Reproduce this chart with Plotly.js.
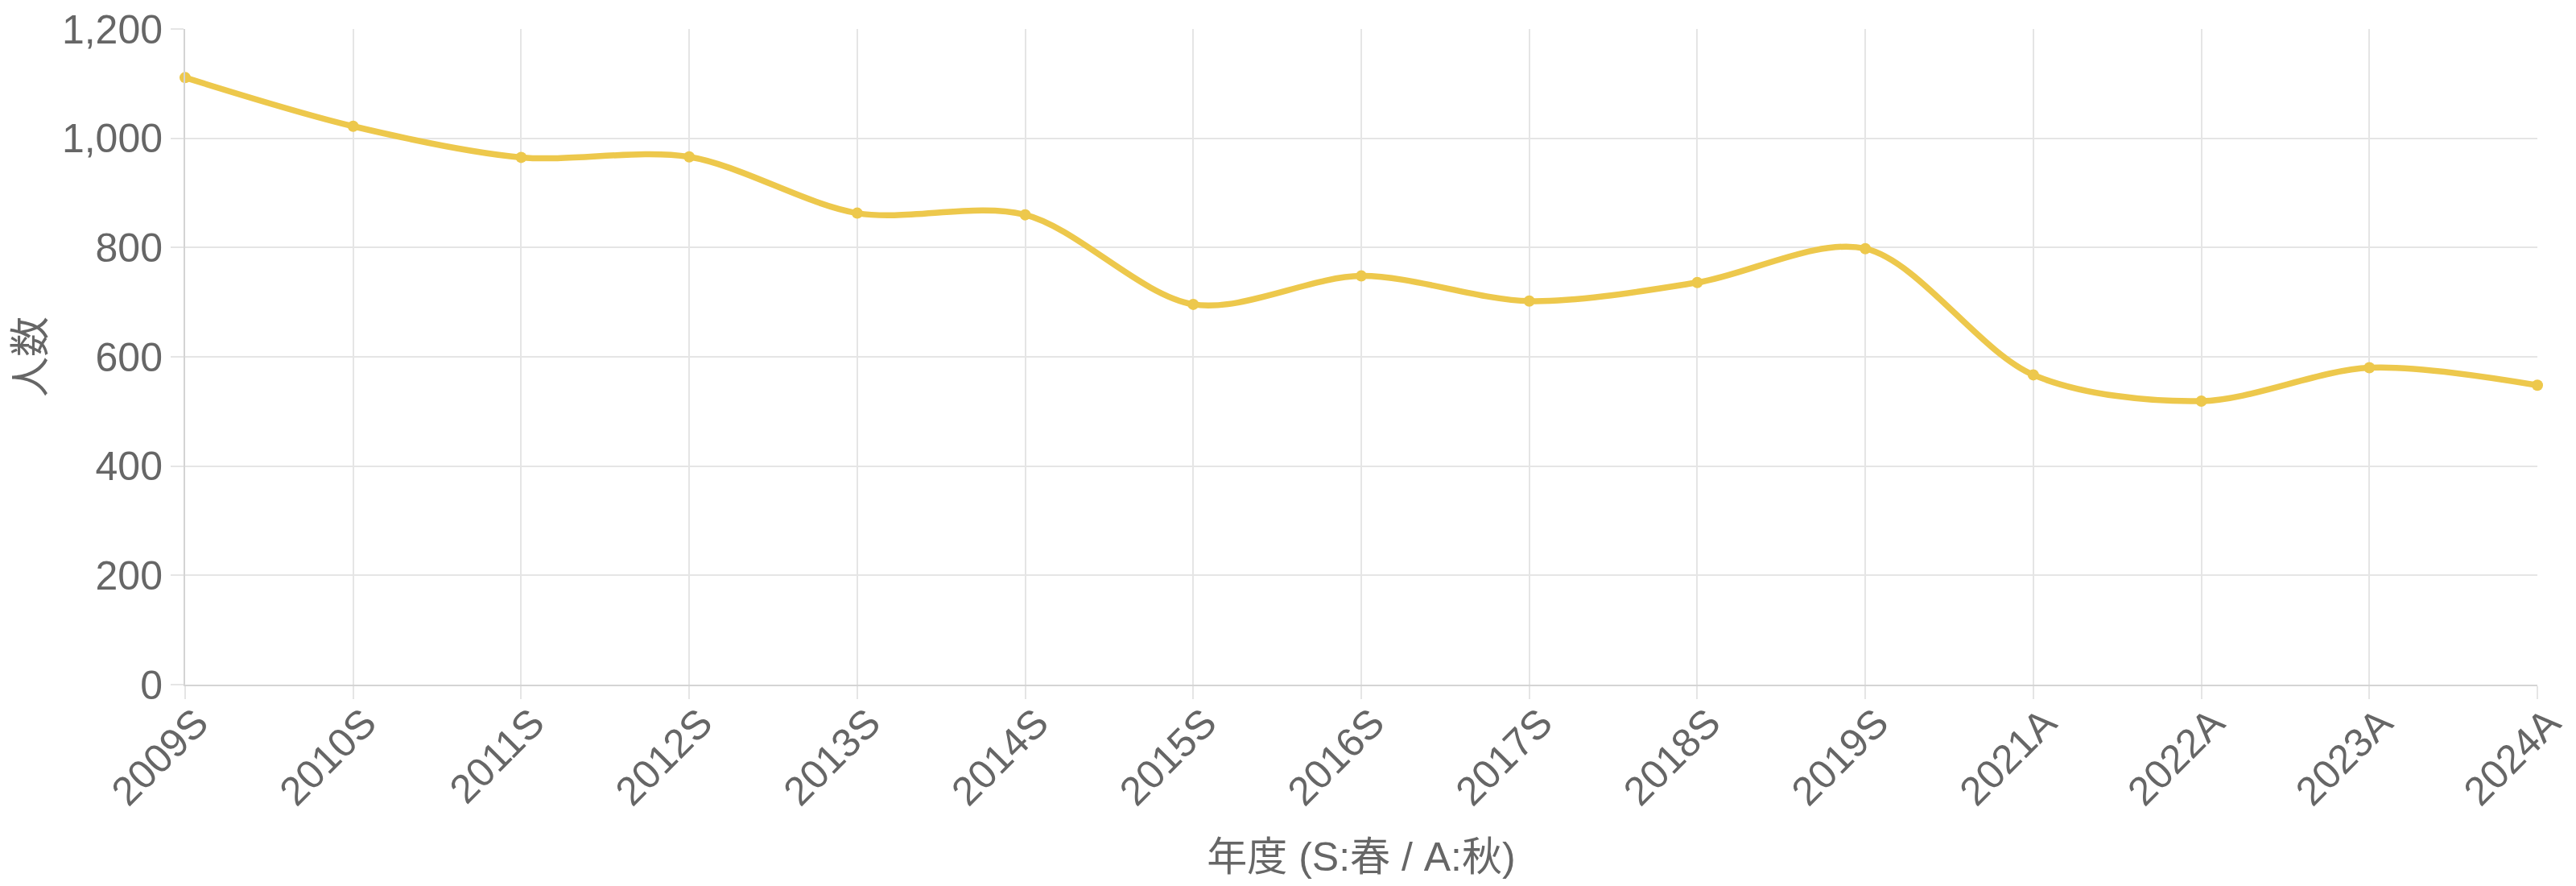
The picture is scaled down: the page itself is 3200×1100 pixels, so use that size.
<!DOCTYPE html>
<html>
<head>
<meta charset="utf-8">
<script src="https://cdn.plot.ly/plotly-3.0.1.min.js"></script>
<style>
  html, body { margin: 0; padding: 0; background: #fff; }
  #chart { width: 3200px; height: 1100px; }
</style>
</head>
<body>
<div id="chart"></div>
<script>
// 年度ラベル (S:春 / A:秋)
var years = ['2009S', '2010S', '2011S', '2012S', '2013S', '2014S', '2015S', '2016S',
             '2017S', '2018S', '2019S', '2021A', '2022A', '2023A', '2024A'];
// 人数
var counts = [1111, 1022, 965, 966, 863, 860, 696, 748, 702, 736, 798, 567, 519, 580, 548];

var yTicks = [0, 200, 400, 600, 800, 1000, 1200];

var fontFamily = '"Liberation Sans", Arial, "Noto Sans CJK JP", sans-serif';
var textColor = '#666666';
var gridColor = '#e5e5e5';
var lineColor = '#d4d4d4';
var yellow = '#edc84c';

var trace = {
  x: years,
  y: counts,
  type: 'scatter',
  mode: 'lines+markers',
  line: { color: yellow, width: 7.5, shape: 'spline', smoothing: 0.9 },
  marker: { color: yellow, size: 14 },
  cliponaxis: false,
  hoverinfo: 'x+y'
};

var layout = {
  width: 3200,
  height: 1100,
  margin: { l: 230, r: 48, t: 36, b: 250 },
  paper_bgcolor: '#ffffff',
  plot_bgcolor: '#ffffff',
  showlegend: false,
  font: { family: fontFamily, color: textColor, size: 50 },
  xaxis: {
    type: 'category',
    range: [0, years.length - 1],
    tickangle: -45,
    ticks: 'outside',
    ticklen: 16,
    tickwidth: 2,
    tickcolor: gridColor,
    ticklabelshift: 14,
    ticklabelstandoff: -20,
    showgrid: true,
    gridcolor: gridColor,
    gridwidth: 2,
    showline: true,
    linecolor: lineColor,
    linewidth: 2,
    zeroline: false,
    tickfont: { family: fontFamily, color: textColor, size: 50 },
    title: {
      text: '年度 (S:春 / A:秋)',
      font: { family: fontFamily, color: textColor, size: 50 },
      standoff: 36
    }
  },
  yaxis: {
    range: [0, 1200],
    tickvals: yTicks,
    tickformat: ',d',
    ticks: 'outside',
    ticklen: 16,
    tickwidth: 2,
    tickcolor: gridColor,
    showgrid: true,
    gridcolor: gridColor,
    gridwidth: 2,
    showline: true,
    linecolor: lineColor,
    linewidth: 2,
    zeroline: false,
    tickfont: { family: fontFamily, color: textColor, size: 50 }
  },
  // y軸タイトル (位置を細かく合わせるため注釈で描く)
  annotations: [{
    text: '人数',
    xref: 'paper',
    yref: 'paper',
    x: -0.0657,
    y: 0.5,
    xanchor: 'center',
    yanchor: 'middle',
    textangle: -90,
    showarrow: false,
    font: { family: fontFamily, color: textColor, size: 50 }
  }]
};

Plotly.newPlot('chart', [trace], layout, { displayModeBar: false, staticPlot: true });
</script>
</body>
</html>
